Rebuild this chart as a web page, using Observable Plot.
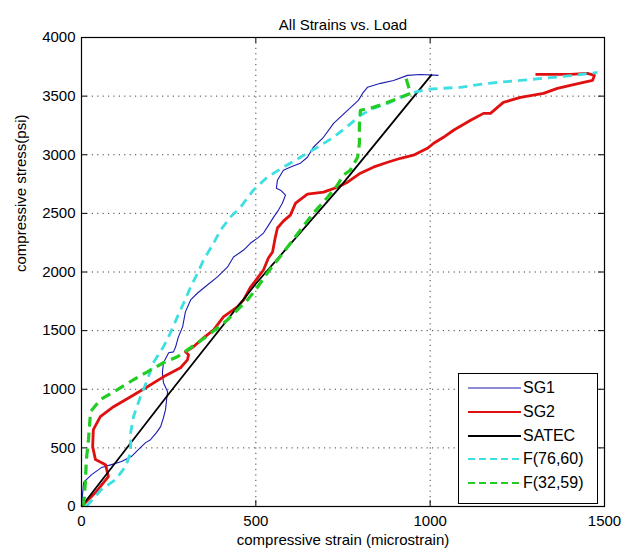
<!DOCTYPE html>
<html><head><meta charset="utf-8">
<script src="https://cdn.jsdelivr.net/npm/d3@7"></script>
<script src="https://cdn.jsdelivr.net/npm/@observablehq/plot@0.6"></script>
<style>
body{margin:0;background:#fff;font-family:"Liberation Sans",Arial,sans-serif;}
#wrap{position:relative;width:622px;height:552px;}
#legend{position:absolute;left:458px;top:373px;width:140px;height:131px;border:1px solid #000;background:#fff;box-sizing:border-box;}
.row{position:absolute;left:9px;height:24px;display:flex;align-items:center;font-size:16px;color:#000;white-space:nowrap;}
.row svg{display:block;margin-right:2px;}
</style></head><body><div id="wrap"></div>
<script>
const title = "All Strains vs. Load";
const xLabel = "compressive strain (microstrain)";
const yLabel = "compressive stress(psi)";
const xTicks = [0, 500, 1000, 1500];
const yTicks = [0, 500, 1000, 1500, 2000, 2500, 3000, 3500, 4000];
const seriesNames = ["SG1", "SG2", "SATEC", "F(76,60)", "F(32,59)"];

const sg1 = [[0,0],[6,205],[29,272],[57,332],[86,357],[115,383],[143,426],[163,485],[184,545],[198,570],[215,630],[227,681],[235,757],[241,826],[244,911],[247,979],[235,1055],[232,1140],[235,1226],[250,1311],[264,1319],[270,1362],[278,1447],[290,1532],[298,1660],[313,1762],[333,1821],[361,1889],[390,1958],[419,2043],[436,2128],[465,2187],[485,2247],[505,2289],[522,2332],[533,2383],[551,2468],[565,2528],[576,2587],[585,2655],[571,2698],[559,2715],[562,2783],[579,2868],[605,2902],[628,2928],[648,2979],[665,3064],[694,3149],[723,3268],[763,3379],[794,3464],[806,3523],[820,3575],[858,3609],[895,3634],[935,3677],[972,3685],[1024,3677]];
const sg2 = [[0,0],[40,119],[77,255],[69,357],[40,400],[32,511],[34,655],[54,766],[92,851],[141,936],[189,1021],[235,1106],[284,1183],[304,1251],[307,1294],[298,1319],[321,1362],[350,1438],[379,1506],[407,1617],[447,1702],[465,1762],[485,1872],[505,1949],[522,2017],[536,2119],[548,2170],[556,2298],[562,2375],[579,2434],[599,2485],[614,2587],[648,2664],[694,2681],[734,2723],[763,2766],[800,2843],[837,2894],[878,2936],[915,2970],[952,2996],[992,3055],[1010,3098],[1038,3149],[1067,3209],[1116,3294],[1153,3353],[1173,3353],[1193,3404],[1210,3447],[1259,3489],[1325,3524],[1365,3566],[1402,3592],[1440,3617],[1466,3634],[1471,3677],[1451,3694],[1402,3685],[1302,3685]];
const satec = [[0,0],[250,960],[500,1900],[740,2720],[1005,3685]];
const f7660 = [[14,0],[57,145],[98,230],[126,340],[141,460],[141,630],[149,766],[169,936],[189,1081],[206,1226],[235,1362],[255,1481],[275,1617],[293,1736],[313,1872],[333,1992],[350,2102],[379,2247],[399,2358],[427,2468],[456,2553],[493,2698],[533,2809],[579,2894],[628,2979],[677,3064],[723,3149],[763,3243],[800,3336],[837,3396],[878,3438],[915,3489],[952,3532],[992,3558],[1030,3566],[1087,3575],[1164,3609],[1259,3634],[1354,3660],[1411,3677],[1480,3702]];
const f3259 = [[6,0],[11,204],[14,400],[20,570],[26,809],[54,911],[103,996],[149,1081],[189,1149],[235,1226],[275,1277],[304,1336],[333,1396],[361,1455],[390,1523],[419,1592],[447,1677],[476,1762],[505,1872],[533,1992],[562,2102],[591,2213],[628,2358],[665,2502],[706,2638],[734,2741],[751,2826],[771,2868],[792,2979],[797,3098],[797,3251],[800,3379],[837,3404],[878,3447],[915,3489],[944,3523],[935,3609],[929,3677]];

const styles = [
  {stroke:"#1c1cb0", strokeWidth:1.1, dash:null},
  {stroke:"#e01010", strokeWidth:2.8, dash:null},
  {stroke:"#000000", strokeWidth:1.8, dash:null},
  {stroke:"#3ddfe0", strokeWidth:2.8, dash:"9,6"},
  {stroke:"#22cc22", strokeWidth:3.2, dash:"10,6"}
];
const seriesData = [sg1, sg2, satec, f7660, f3259];

const inner = yTicks.filter(d => d > 0 && d < 4000);
const innerX = xTicks.filter(d => d > 0 && d < 1500);
const gridStyle = {stroke:"#000", strokeOpacity:0.75, strokeWidth:1, strokeDasharray:"1.2,4.2"};

const lineMarks = seriesData.map((data, i) => Plot.line(data, {
  x: d => d[0], y: d => d[1],
  stroke: styles[i].stroke, strokeWidth: styles[i].strokeWidth,
  strokeDasharray: styles[i].dash ?? undefined,
  strokeLinejoin: "round", strokeLinecap: "butt"
}));

const fmt = d => String(d);
const chart = Plot.plot({
  width: 622, height: 552,
  marginLeft: 81, marginRight: 18, marginTop: 37, marginBottom: 46,
  style: {fontFamily: "'Liberation Sans', Arial, sans-serif", fontSize: "15px", background: "#fff", overflow: "visible"},
  x: {domain: [0, 1500], axis: null},
  y: {domain: [0, 4000], axis: null},
  marks: [
    Plot.gridX(innerX, {...gridStyle}),
    Plot.gridY(inner, {...gridStyle}),
    Plot.ruleX(innerX, {x: d => d, y1: 0, y2: 50, stroke: "#000"}),
    Plot.ruleX(innerX, {x: d => d, y1: 3950, y2: 4000, stroke: "#000"}),
    Plot.ruleY(inner, {y: d => d, x1: 0, x2: 17, stroke: "#000"}),
    Plot.ruleY(inner, {y: d => d, x1: 1483, x2: 1500, stroke: "#000"}),
    ...lineMarks,
    Plot.frame({stroke: "#000", strokeWidth: 1.2}),
    Plot.axisX(xTicks, {tickSize: 0, tickPadding: 9, fontSize: 15, label: null, tickFormat: fmt}),
    Plot.axisY(yTicks, {tickSize: 0, tickPadding: 6, fontSize: 15, label: null, tickFormat: fmt}),
    Plot.text([title], {frameAnchor: "top", dy: -18, fontSize: 15, text: d => d}),
    Plot.text([xLabel], {frameAnchor: "bottom", dy: 38, fontSize: 15, text: d => d}),
    Plot.text([yLabel], {frameAnchor: "left", dx: -60, rotate: -90, fontSize: 15, text: d => d})
  ]
});
const wrap = document.getElementById("wrap");
wrap.appendChild(chart);

const legend = document.createElement("div");
legend.id = "legend";
const rowCenters = [14, 38, 62, 85, 109];
seriesNames.forEach((name, i) => {
  const row = document.createElement("div");
  row.className = "row";
  row.style.top = (rowCenters[i] - 12) + "px";
  const s = styles[i];
  const lw = i === 1 || i === 2 ? 2 : (i >= 3 ? 2.2 : 1.1);
  row.innerHTML = `<svg width="53" height="10"><line x1="0" y1="5" x2="53" y2="5" stroke="${s.stroke}" stroke-width="${lw}" ${s.dash ? `stroke-dasharray="7,4"` : ""}/></svg><span>${name}</span>`;
  legend.appendChild(row);
});
wrap.appendChild(legend);
</script></body></html>
